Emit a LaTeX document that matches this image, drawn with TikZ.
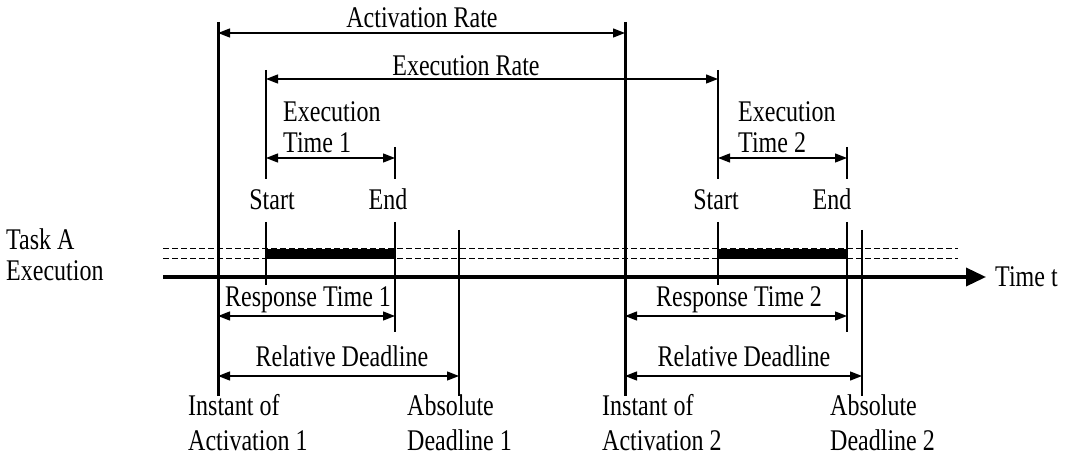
\documentclass[tikz,border=0pt]{standalone}
\usepackage{fontspec}
\setmainfont{Liberation Serif}[FakeStretch=0.8]
\usetikzlibrary{arrows.meta}
\begin{document}
\begin{tikzpicture}[x=1pt,y=-1pt,
  lbl/.style={inner sep=0pt,font=\fontsize{30}{36}\selectfont},
  thickline/.style={line width=3pt},
  thinline/.style={line width=1.3pt},
  dim/.style={line width=1.3pt,{Triangle[length=12pt,width=9pt]}-{Triangle[length=12pt,width=9pt]}},
  taskslot/.style={line width=1pt,dash pattern=on 6pt off 3pt}]
\useasboundingbox (0,0) rectangle (1068,470);

% time axis
\coordinate (ax0) at (163,277);
\coordinate (ax1) at (986,277);
\draw[line width=3.5pt,-{Triangle[length=20pt,width=18pt]}] (ax0) -- (ax1);
\node[lbl,anchor=base west] (time) at (995,287) {Time t};

% execution slots (dashed band)
\coordinate (s0) at (163,249);
\coordinate (s1) at (958,249);
\coordinate (s2) at (163,259);
\coordinate (s3) at (958,259);
\draw[taskslot] (s0) -- (s1);
\draw[taskslot] (s2) -- (s3);

% activation instants
\coordinate (act1t) at (218,22);  \coordinate (act1b) at (218,396);
\coordinate (act2t) at (625,22);  \coordinate (act2b) at (625,396);
\draw[thickline] (act1t) -- (act1b);
\draw[thickline] (act2t) -- (act2b);

% start / end / deadline markers, job 1
\coordinate (st1a) at (266,70);  \coordinate (st1b) at (266,179);
\coordinate (st1c) at (266,222); \coordinate (st1d) at (266,285);
\coordinate (en1a) at (395,147); \coordinate (en1b) at (395,179);
\coordinate (en1c) at (395,222); \coordinate (en1d) at (395,332);
\coordinate (dl1a) at (459,230); \coordinate (dl1b) at (459,396);
\draw[thinline] (st1a) -- (st1b);
\draw[thinline] (st1c) -- (st1d);
\draw[thinline] (en1a) -- (en1b);
\draw[thinline] (en1c) -- (en1d);
\draw[thinline] (dl1a) -- (dl1b);

% start / end / deadline markers, job 2
\coordinate (st2a) at (718,70);  \coordinate (st2b) at (718,179);
\coordinate (st2c) at (718,222); \coordinate (st2d) at (718,285);
\coordinate (en2a) at (847,147); \coordinate (en2b) at (847,179);
\coordinate (en2c) at (847,222); \coordinate (en2d) at (847,332);
\coordinate (dl2a) at (862,230); \coordinate (dl2b) at (862,396);
\draw[thinline] (st2a) -- (st2b);
\draw[thinline] (st2c) -- (st2d);
\draw[thinline] (en2a) -- (en2b);
\draw[thinline] (en2c) -- (en2d);
\draw[thinline] (dl2a) -- (dl2b);

% executed portions
\coordinate (run1a) at (266,254); \coordinate (run1b) at (395,254);
\coordinate (run2a) at (718,254); \coordinate (run2b) at (847,254);
\draw[line width=10pt] (run1a) -- (run1b);
\draw[line width=10pt] (run2a) -- (run2b);

% rates
\coordinate (ar0) at (218,33); \coordinate (ar1) at (625,33);
\draw[dim] (ar0) -- (ar1);
\node[lbl,anchor=base] (actrate) at (422,28) {Activation Rate};
\coordinate (er0) at (266,79); \coordinate (er1) at (718,79);
\draw[dim] (er0) -- (er1);
\node[lbl,anchor=base] (exrate) at (466,76) {Execution Rate};

% execution times
\coordinate (et1a) at (266,158); \coordinate (et1b) at (395,158);
\draw[dim] (et1a) -- (et1b);
\node[lbl,anchor=base west] (ex1) at (283,122) {Execution};
\node[lbl,anchor=base west] (ex1b) at (283,153) {Time 1};
\coordinate (et2a) at (718,158); \coordinate (et2b) at (847,158);
\draw[dim] (et2a) -- (et2b);
\node[lbl,anchor=base west] (ex2) at (738,122) {Execution};
\node[lbl,anchor=base west] (ex2b) at (738,153) {Time 2};

% start / end labels
\node[lbl,anchor=base] (start1) at (272,210) {Start};
\node[lbl,anchor=base] (end1) at (388,210) {End};
\node[lbl,anchor=base] (start2) at (716,210) {Start};
\node[lbl,anchor=base] (end2) at (832,210) {End};

% task label
\node[lbl,anchor=base west] (task) at (6,250) {Task A};
\node[lbl,anchor=base west] (taskb) at (6,281) {Execution};

% response times
\coordinate (rt1a) at (218,316); \coordinate (rt1b) at (395,316);
\draw[dim] (rt1a) -- (rt1b);
\node[lbl,anchor=base] (resp1) at (308,306) {Response Time 1};
\coordinate (rt2a) at (625,316); \coordinate (rt2b) at (847,316);
\draw[dim] (rt2a) -- (rt2b);
\node[lbl,anchor=base] (resp2) at (739,306) {Response Time 2};

% relative deadlines
\coordinate (rd1a) at (218,376); \coordinate (rd1b) at (459,376);
\draw[dim] (rd1a) -- (rd1b);
\node[lbl,anchor=base] (rel1) at (342,366) {Relative Deadline};
\coordinate (rd2a) at (625,376); \coordinate (rd2b) at (862,376);
\draw[dim] (rd2a) -- (rd2b);
\node[lbl,anchor=base] (rel2) at (744,366) {Relative Deadline};

% instants at the bottom
\node[lbl,anchor=base west] (in1) at (188,415) {Instant of};
\node[lbl,anchor=base west] (in1b) at (188,450) {Activation 1};
\node[lbl,anchor=base west] (ab1) at (407,415) {Absolute};
\node[lbl,anchor=base west] (ab1b) at (407,450) {Deadline 1};
\node[lbl,anchor=base west] (in2) at (602,415) {Instant of};
\node[lbl,anchor=base west] (in2b) at (602,450) {Activation 2};
\node[lbl,anchor=base west] (ab2) at (830,415) {Absolute};
\node[lbl,anchor=base west] (ab2b) at (830,450) {Deadline 2};
\end{tikzpicture}
\end{document}
